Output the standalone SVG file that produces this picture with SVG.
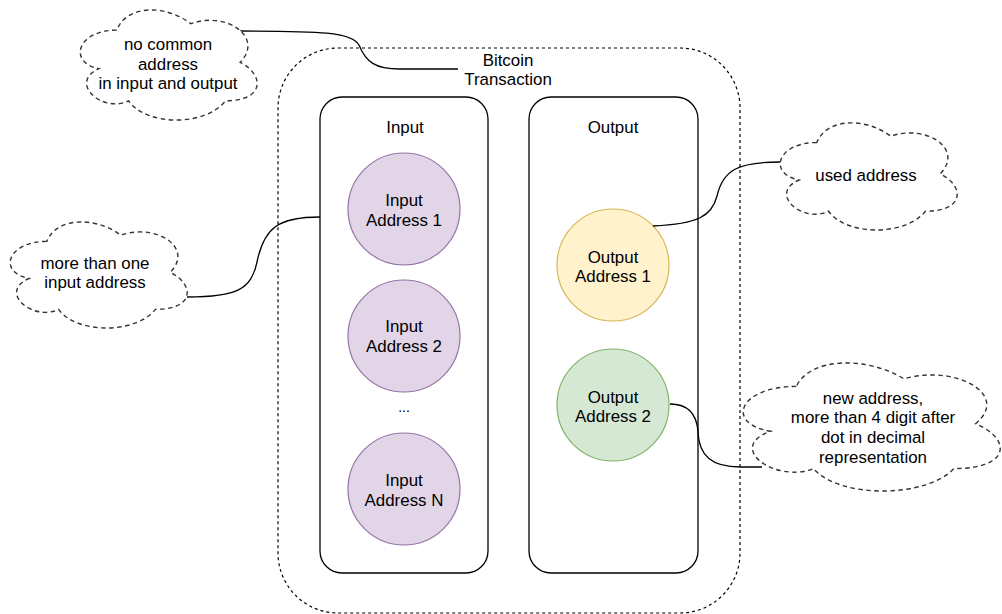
<svg xmlns="http://www.w3.org/2000/svg" width="1002" height="614" viewBox="0 0 1002 614">
<style>
text{font-family:"Liberation Sans",Arial,Helvetica,sans-serif;font-size:16.9px;fill:#000;text-anchor:middle}
.cloud{fill:#fff;stroke:#333;stroke-width:1.4;stroke-dasharray:4.5 3.5}
.box{fill:#fff;stroke:#000;stroke-width:1.3}
.outer{fill:none;stroke:#000;stroke-width:1.2;stroke-dasharray:3 3}
.purple{fill:#e1d5e7;stroke:#9673a6;stroke-width:1.2}
.yellow{fill:#fff2cc;stroke:#d6b656;stroke-width:1.2}
.green{fill:#d5e8d4;stroke:#82b366;stroke-width:1.2}
.edge{fill:none;stroke:#000;stroke-width:1.3}
</style>
<rect width="1002" height="614" fill="#fff"/>
<g id="transaction">
<rect class="outer" x="278" y="48" width="462" height="565" rx="60" ry="60"/>
<text x="508" y="65.5">Bitcoin</text>
<text x="508" y="85">Transaction</text>
</g>
<g id="input-container">
<rect class="box" x="320" y="97" width="168" height="476" rx="22" ry="22"/>
<text x="405" y="132.5">Input</text>
</g>
<g id="output-container">
<rect class="box" x="529" y="97" width="169" height="476" rx="22" ry="22"/>
<text x="613" y="132.5">Output</text>
</g>
<g id="input-address-1">
<circle class="purple" cx="404" cy="209" r="56"/>
<text x="404" y="205.5">Input</text>
<text x="404" y="225.5">Address 1</text>
</g>
<g id="input-address-2">
<circle class="purple" cx="404" cy="336" r="56"/>
<text x="404" y="331.5">Input</text>
<text x="404" y="351.5">Address 2</text>
</g>
<g id="ellipsis">
<text x="404" y="412" style="font-size:14px">...</text>
</g>
<g id="input-address-n">
<circle class="purple" cx="404" cy="489" r="56"/>
<text x="404" y="485.5">Input</text>
<text x="404" y="505.5">Address N</text>
</g>
<g id="output-address-1">
<circle class="yellow" cx="613" cy="265" r="56"/>
<text x="613" y="262.5">Output</text>
<text x="613" y="281.5">Address 1</text>
</g>
<g id="output-address-2">
<circle class="green" cx="613" cy="405" r="56"/>
<text x="613" y="402.5">Output</text>
<text x="613" y="421.5">Address 2</text>
</g>
<g id="connectors">
<path class="edge" d="M240 31 C 320 31 352 32 359 45 C 366 62 375 69 400 69 L 458 69"/>
<path class="edge" d="M187 297 C 238 297 251 289 257 262 C 264 228 278 217 320 217"/>
<path class="edge" d="M653 226 C 698 224 712 216 717 196 C 723 170 738 162 780 162"/>
<path class="edge" d="M670 404 C 690 404 697 416 698 432 C 699 456 712 467 740 467 L 762 467"/>
</g>
<g id="cloud-no-common">
<path class="cloud" d="M116.8 30.1 C77.3 30.1 67.4 62.3 99 68.7 C67.4 82.8 103 113.7 128.6 100.8 C146.4 126.5 205.7 126.5 225.4 100.8 C264.9 100.8 264.9 75.1 240.2 62.3 C264.9 36.6 225.4 10.9 190.8 23.7 C166.2 4.4 126.7 4.4 116.8 30.1 Z"/>
<text x="168" y="50">no common</text>
<text x="168" y="69.5">address</text>
<text x="168" y="89">in input and output</text>
</g>
<g id="cloud-more-than-one">
<path class="cloud" d="M46.8 241.4 C7.3 241.4 -2.6 272.3 29 278.5 C-2.6 292.1 33 321.8 58.6 309.4 C76.4 334.2 135.7 334.2 155.4 309.4 C194.9 309.4 194.9 284.7 170.2 272.3 C194.9 247.5 155.4 222.8 120.8 235.2 C96.2 216.6 56.7 216.6 46.8 241.4 Z"/>
<text x="95" y="268.5">more than one</text>
<text x="95" y="288">input address</text>
</g>
<g id="cloud-used-address">
<path class="cloud" d="M816.8 142.5 C777.3 142.5 767.4 173.75 799 180 C767.4 193.75 803 223.75 828.6 211.25 C846.4 236.25 905.7 236.25 925.4 211.25 C964.9 211.25 964.9 186.25 940.2 173.75 C964.9 148.75 925.4 123.75 890.8 136.25 C866.2 117.5 826.7 117.5 816.8 142.5 Z"/>
<text x="866" y="180.5">used address</text>
</g>
<g id="cloud-new-address">
<path class="cloud" d="M796.3 386.4 C738.9 386.4 724.6 423.75 770.5 431.2 C724.6 447.7 776.2 483.6 813.5 468.6 C839.3 498.5 925.4 498.5 954 468.6 C1011.4 468.6 1011.4 438.7 975.6 423.75 C1011.4 393.9 954 364 903.9 378.9 C868 356.5 810.6 356.5 796.3 386.4 Z"/>
<text x="873" y="403.5">new address,</text>
<text x="873" y="422.5">more than 4 digit after</text>
<text x="873" y="442.5">dot in decimal</text>
<text x="873" y="462.5">representation</text>
</g>
</svg>
